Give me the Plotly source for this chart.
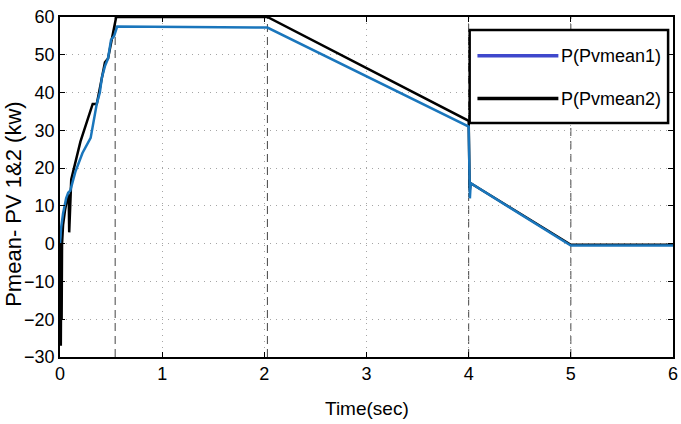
import plotly.graph_objects as go

# Pvmean2 (black)
t2 = [0, 0.004, 0.008, 0.012, 0.016, 0.02, 0.03, 0.05, 0.07, 0.085, 0.09, 0.1, 0.11, 0.2, 0.32, 0.36, 0.38, 0.41, 0.44, 0.47, 0.5, 0.52, 0.55, 2.03, 4.0, 4.01, 4.02, 5.0, 6.0]
p2 = [0, -15, -27, -5, -20, 0, 5, 9, 12, 13, 3, 10, 17, 27, 37, 37, 40, 44, 48, 49, 53, 55, 60, 60, 32.5, 14, 16, -0.3, -0.3]

# Pvmean1 (blue)
t1 = [0, 0.01, 0.03, 0.06, 0.08, 0.1, 0.15, 0.22, 0.3, 0.33, 0.36, 0.39, 0.41, 0.44, 0.47, 0.5, 0.53, 0.56, 2.03, 4.0, 4.005, 4.012, 4.02, 5.0, 6.0]
p1 = [0, 4, 8, 12, 13.5, 14, 19, 24, 28, 33, 37, 40, 44, 47, 49, 54, 55, 57.5, 57.2, 31, 18, 12, 16, -0.5, -0.5]

event_times = [0.54, 2.03, 4.0, 5.0]
x_ticks = [0, 1, 2, 3, 4, 5, 6]
y_ticks = [-30, -20, -10, 0, 10, 20, 30, 40, 50, 60]
series_names = ["P(Pvmean1)", "P(Pvmean2)"]

BLUE = "#1a76bc"
LEG_BLUE = "#3f48cc"
FONT = "Liberation Sans, Arial, sans-serif"

fig = go.Figure()
fig.add_trace(go.Scatter(x=t2, y=p2, mode="lines", line=dict(color="black", width=2.5), showlegend=False))
fig.add_trace(go.Scatter(x=t1, y=p1, mode="lines", line=dict(color=BLUE, width=2.5), showlegend=False))

for te in event_times:
    fig.add_vline(x=te, line=dict(color="#444444", width=1, dash="8px,5px"), layer="below")

axis_common = dict(
    showline=True, linecolor="black", linewidth=1.5, mirror="ticks",
    ticks="inside", ticklen=5, tickcolor="black",
    showgrid=True, gridcolor="#a5a5a5", griddash="1px,5px", gridwidth=1,
    zeroline=False, automargin=False,
    tickfont=dict(family=FONT, size=18, color="black"),
)
fig.update_xaxes(range=[0, 6], tickvals=x_ticks, **axis_common)
fig.update_yaxes(range=[-30, 60], tickvals=y_ticks, **axis_common)

# axis titles
fig.add_annotation(text="Time(sec)", xref="paper", yref="paper", x=0.5, y=-0.115,
                   xanchor="center", yanchor="top", showarrow=False,
                   font=dict(family=FONT, size=19, color="black"))
fig.add_annotation(text="Pmean- PV 1&2 (kw)", xref="paper", yref="paper", x=-0.077, y=0.45,
                   xanchor="center", yanchor="middle", textangle=-90, showarrow=False,
                   font=dict(family=FONT, size=22, color="black"))

# legend box (drawn as in the original figure)
lx0, lx1, ly0, ly1 = 0.6683, 0.992, 0.688, 0.962
fig.add_shape(type="rect", xref="paper", yref="paper", x0=lx0, x1=lx1, y0=ly0, y1=ly1,
              line=dict(color="black", width=2.5), fillcolor="white", layer="above")
leg_colors = [LEG_BLUE, "black"]
leg_y = [0.886, 0.76]
for name, col, yy in zip(series_names, leg_colors, leg_y):
    fig.add_shape(type="line", xref="paper", yref="paper", x0=0.681, x1=0.813, y0=yy, y1=yy,
                  line=dict(color=col, width=3.5), layer="above")
    fig.add_annotation(text=name, xref="paper", yref="paper", x=0.984, y=yy,
                       xanchor="right", yanchor="middle", showarrow=False,
                       font=dict(family=FONT, size=18, color="black"))

fig.update_layout(
    width=681, height=424,
    margin=dict(l=60, r=8, t=17, b=67),
    plot_bgcolor="white", paper_bgcolor="white",
    showlegend=False,
)

fig.write_html("out.html", config={"displayModeBar": False},
               post_script="document.body.style.margin='0';")
